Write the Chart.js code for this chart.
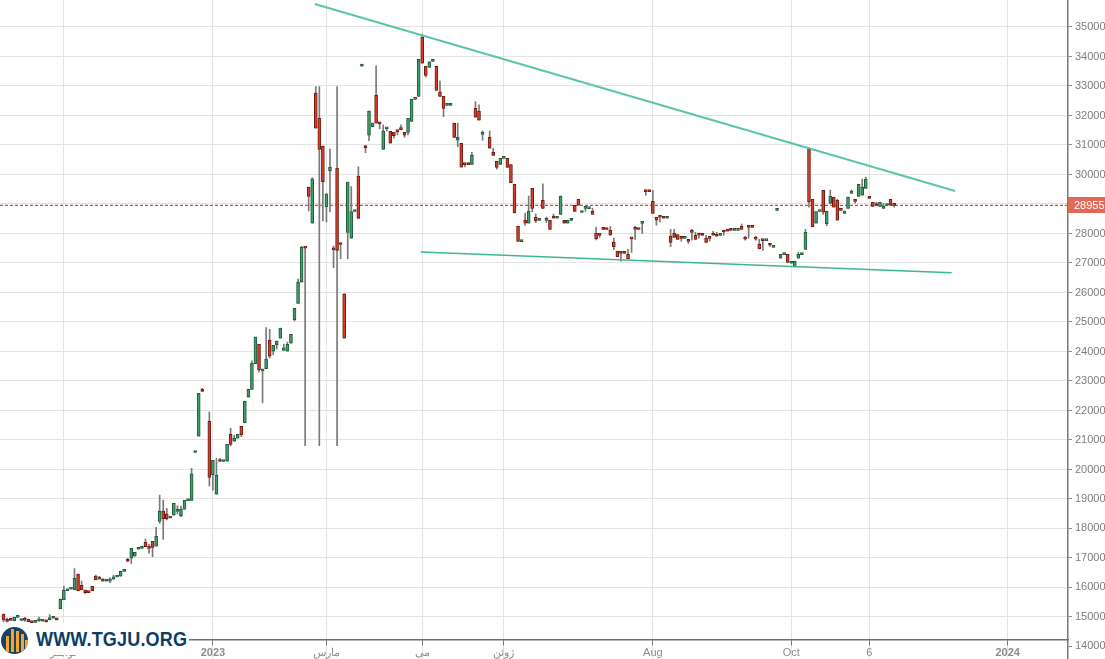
<!DOCTYPE html>
<html>
<head>
<meta charset="utf-8">
<script src="https://cdn.jsdelivr.net/npm/chart.js@4.4.0/dist/chart.umd.min.js"></script>
<style>
  html, body { margin: 0; padding: 0; background: #fff; }
  #wrap { position: relative; width: 1105px; height: 659px; overflow: hidden; }
  #logo { position: absolute; left: 0; top: 623px; width: 189px; height: 32px; background: #fff; }
  #logo .icon { position: absolute; left: 1px; top: 4px; width: 27px; height: 27px; border-radius: 50%; background: #15426b; overflow: hidden; }
  #logo .icon span { position: absolute; bottom: 2px; width: 3px; background: #f6a623; }
  #logo .site { position: absolute; left: 36px; top: 6px; font: bold 20px "Liberation Sans", Arial, sans-serif; color: #0c3d66;
                transform: scaleX(0.9); transform-origin: left top; letter-spacing: 0.2px; line-height: 20px; }
</style>
</head>
<body>
<div id="wrap">
  <canvas id="chart" width="1105" height="659"></canvas>
  <div id="logo">
    <div class="icon">
      <span style="left:5px;height:16px"></span>
      <span style="left:10px;height:23px"></span>
      <span style="left:15px;height:21px"></span>
      <span style="left:20px;height:18px"></span>
      <span style="left:24px;height:12px"></span>
    </div>
    <div class="site">WWW.TGJU.ORG</div>
  </div>
</div>
<script>
// trading sessions, one candle each (session 58 and 137 had no trade)
const opens = [
  15100, 14910, 14895, 14870, 14985, 14880, 14960, 14920, 14860, 14815,
  14870, 14855, 14900, 14910, 14955, 14960, 15280, 15590, 15890, 15945,
  15920, 16450, 16070, 15910, 15835, 16040, 16390, 16280, 16290, 16215,
  16210, 16280, 16355, 16380, 16545, 16930, 16990, 17060, 17295, 17325,
  17530, 17335, 17560, 17400, 18240, 18590, 18500, 18355, 18450, 18580,
  18430, 18650, 18945, 18950, 20575, 21130, 22655, null, 21630, 19820,
  19160, 20280, 20270, 20280, 21190, 20960, 21060, 21460, 21590, 22450,
  22710, 23590, 24240, 23345, 23420, 24380, 24010, 24230, 24450, 24040,
  24010, 24280, 25080, 25630, 26350, 27515, 29570, 28350, 32760, 31900,
  30960, 28900, 30130, 27455, 30220, 27635, 25950, 28040, 27840, 28745,
  29950, 33675, 30970, 31330, 31620, 32680, 31725, 30850, 31550, 31460,
  31430, 31465, 31580, 31430, 31430, 31800, 32545, 32650, 34660, 33670,
  33630, 33835, 33670, 32800, 32650, 32345, 32345, 31740, 31160, 31060,
  30345, 30345, 30340, 32240, 32140, 31360, null, 31260, 30750, 30450,
  30340, 30545, 30550, 30340, 29670, 28240, 27725, 28450, 28350, 29530,
  28550, 28445, 29120, 28445, 28450, 28550, 28515, 28650, 28450, 28350,
  28445, 28955, 29160, 28710, 28850, 28845, 28750, 28010, 27945, 28210,
  28145, 28110, 27700, 27400, 27335, 27335, 27290, 27825, 28180, 28145,
  28340, 29430, 29430, 29090, 28550, 28590, 28525, 28515, 27910, 28010,
  27960, 27845, 27835, 27800, 28080, 27940, 28010, 27945, 27840, 27845,
  28010, 27970, 27935, 28110, 28140, 28115, 28105, 28105, 28240, 27850,
  28215, 28215, 27850, 27630, 27770, 27760, 27670, 27530, 28785, 27160,
  27285, 27290, 26990, 26870, 27160, 27285, 27460, 30850, 29160, 28350,
  28745, 29460, 28330, 29020, 29230, 29120, 28795, 28680, 28850, 29360,
  29160, 29260, 29300, 29530, 29230, 29060, 28960, 28920, 28850, 28950,
  29160, 28990
];
const highs = [
  15100, 14960, 14895, 14990, 14995, 14920, 14990, 14920, 14860, 14825,
  15000, 14865, 14900, 15080, 14965, 14960, 15610, 16050, 15950, 15955,
  16640, 16450, 16220, 15910, 15835, 16040, 16420, 16380, 16290, 16225,
  16330, 16420, 16365, 16550, 16555, 16990, 17330, 17190, 17305, 17335,
  17640, 17460, 17560, 18040, 19130, 18960, 18680, 18365, 18850, 18770,
  18760, 18950, 18955, 20040, 20585, 22580, 22750, null, 21950, 20310,
  20380, 20380, 20280, 20850, 21400, 21160, 21190, 21460, 22310, 22720,
  23680, 24490, 24240, 23355, 24810, 24750, 24210, 24350, 24790, 24250,
  24320, 24580, 25460, 26450, 27570, 27515, 29570, 29890, 32980, 32980,
  30960, 29340, 30860, 27575, 32980, 27635, 25950, 29740, 29590, 28755,
  30260, 33685, 30970, 32150, 31740, 33680, 31725, 31680, 31560, 31460,
  31430, 31465, 31680, 31430, 31900, 32550, 32555, 33900, 34760, 33670,
  33820, 33845, 33670, 33170, 32650, 32355, 32355, 31740, 31740, 31060,
  30345, 30345, 30750, 32470, 32360, 31480, null, 31470, 30890, 30450,
  30550, 30555, 30550, 30340, 29670, 28240, 27735, 28690, 29270, 29530,
  28660, 28455, 29680, 28560, 28450, 28660, 28525, 29270, 28450, 28450,
  28455, 28955, 29160, 28750, 28860, 28855, 28860, 28210, 27945, 28210,
  28145, 28240, 27840, 27400, 27335, 27335, 27460, 27825, 28240, 28145,
  28350, 29460, 29430, 29460, 28550, 28590, 28525, 28525, 28140, 28140,
  27960, 27845, 27845, 27800, 28140, 28040, 28010, 27945, 27940, 27845,
  28075, 28040, 27945, 28110, 28140, 28115, 28115, 28115, 28320, 27905,
  28215, 28215, 27905, 27800, 27770, 27770, 27670, 27540, 28795, 27290,
  27295, 27290, 27000, 27060, 27360, 27295, 28140, 30910, 29160, 28740,
  28755, 29460, 28760, 29475, 29230, 29160, 28795, 28760, 29230, 29475,
  29160, 29670, 29840, 29910, 29260, 29060, 29060, 29060, 29020, 28960,
  29160, 28990
];
const lows = [
  14830, 14830, 14885, 14870, 14985, 14880, 14850, 14840, 14740, 14815,
  14850, 14855, 14830, 14900, 14955, 14900, 15280, 15590, 15890, 15945,
  15920, 15890, 15920, 15790, 15825, 15890, 16260, 16280, 16210, 16215,
  16160, 16280, 16355, 16380, 16545, 16870, 16810, 17060, 17295, 17325,
  17380, 17160, 17040, 17400, 18180, 17630, 18290, 18355, 18450, 18490,
  18400, 18650, 18945, 18950, 20575, 21130, 22645, null, 19440, 19300,
  19160, 20270, 20270, 20280, 20800, 20960, 21060, 21110, 21590, 22450,
  22710, 23590, 23310, 22260, 23420, 23770, 23890, 24080, 24450, 24040,
  24010, 24280, 25040, 25630, 26350, 20810, 28770, 28350, 31570, 20810,
  28430, 28390, 28730, 26840, 20810, 27145, 24450, 27145, 27840, 28745,
  28510, 33675, 30740, 31150, 31620, 31740, 31550, 30850, 31470, 31060,
  31230, 31350, 31520, 31260, 31340, 31800, 32545, 32650, 33770, 33300,
  33630, 33835, 32850, 32650, 31960, 32345, 32345, 31260, 30940, 30250,
  30260, 30335, 30340, 31940, 31840, 31160, null, 30890, 30650, 30180,
  30340, 30545, 30240, 29720, 28700, 27730, 27725, 28280, 28350, 28740,
  28370, 28445, 28850, 28370, 28140, 28520, 28515, 28650, 28350, 28350,
  28445, 28750, 28960, 28710, 28750, 28845, 28650, 27780, 27870, 28140,
  28135, 27940, 27450, 27210, 27060, 27325, 27150, 27360, 27800, 28135,
  28000, 29295, 29420, 28680, 28280, 28390, 28515, 28515, 27550, 27870,
  27800, 27735, 27835, 27665, 27780, 27800, 27840, 27935, 27700, 27745,
  27940, 27905, 27935, 27940, 28080, 28105, 28105, 28105, 28140, 27770,
  27840, 28205, 27770, 27480, 27430, 27760, 27565, 27530, 28785, 27160,
  27285, 27020, 26990, 26870, 27160, 27285, 27460, 28890, 28230, 28350,
  28745, 28650, 28265, 29020, 28890, 28450, 28785, 28680, 28850, 29360,
  29025, 29260, 29300, 29530, 29190, 28920, 28950, 28920, 28850, 28950,
  28960, 28890
];
const closes = [
  14900, 14850, 14885, 14990, 14995, 14920, 14890, 14840, 14810, 14825,
  14930, 14865, 14830, 14960, 14965, 14900, 15610, 15910, 15950, 15955,
  16310, 15890, 15920, 15820, 15825, 15890, 16260, 16330, 16210, 16225,
  16290, 16360, 16365, 16550, 16555, 16890, 17330, 17190, 17305, 17335,
  17380, 17325, 17360, 17730, 18590, 18320, 18330, 18365, 18850, 18660,
  18650, 18950, 18955, 19850, 20585, 22580, 22645, null, 19730, 20310,
  19800, 20270, 20280, 20850, 20850, 21060, 21190, 21180, 22310, 22720,
  23610, 24490, 23380, 23355, 23740, 23840, 24210, 24350, 24790, 24120,
  24240, 24580, 25460, 26350, 27530, 27505, 29260, 29850, 31570, 30850,
  29760, 29340, 30240, 27445, 27430, 27625, 24450, 29740, 28740, 28755,
  28510, 33685, 30910, 32150, 31740, 31740, 31715, 31470, 31560, 31060,
  31320, 31455, 31520, 31330, 31900, 32550, 32555, 33900, 33770, 33360,
  33820, 33845, 32850, 32650, 32240, 32355, 32355, 31260, 31260, 30250,
  30335, 30335, 30650, 31940, 31840, 31370, null, 30890, 30650, 30240,
  30550, 30555, 30240, 29720, 28700, 27730, 27735, 28350, 28750, 28850,
  28430, 28455, 28850, 28455, 28140, 28520, 28525, 29270, 28350, 28450,
  28455, 28750, 28960, 28750, 28860, 28855, 28650, 27820, 27935, 28140,
  28135, 27940, 27550, 27210, 27325, 27325, 27150, 27815, 28140, 28135,
  28350, 29420, 29420, 28680, 28450, 28550, 28515, 28525, 27700, 27870,
  27800, 27835, 27845, 27730, 28040, 27800, 27940, 27935, 27700, 27835,
  27940, 27905, 27945, 28050, 28080, 28105, 28115, 28115, 28140, 27810,
  28205, 28205, 27810, 27480, 27760, 27770, 27600, 27540, 28795, 27290,
  27295, 27020, 27000, 27060, 27290, 27295, 28040, 29060, 28230, 28740,
  28755, 28720, 28760, 29260, 28890, 28450, 28785, 28760, 29230, 29430,
  29090, 29670, 29570, 29840, 29190, 28920, 28950, 29060, 28920, 28960,
  28960, 28955
];

// x-axis ticks (session number -> label)
const tickSessions = [18, 60, 92, 119, 142, 184, 223, 245, 284];
const tickLabels = ['نوامبر', '2023', 'مارس', 'می', 'ژوئن', 'Aug', 'Oct', '6', '2024'];
// y-axis ticks
const priceTicks = [14000, 15000, 16000, 17000, 18000, 19000, 20000, 21000, 22000, 23000, 24000,
                    25000, 26000, 27000, 28000, 29000, 30000, 31000, 32000, 33000, 34000, 35000];

// trend lines: [session, price]
const upperTrend = [[88.7, 35780], [269.2, 29440]];
const lowerTrend = [[118.6, 27372], [268.2, 26670]];

const lastSession = 301;
const lastClose = closes[closes.length - 1];

const UP_FILL = '#429d6d', UP_EDGE = '#1d5a38';
const DOWN_FILL = '#d0402c', DOWN_EDGE = '#701b11';

const bodies = [], wicks = [], fills = [], edges = [];
opens.forEach((o, k) => {
  if (o === null) return;
  const s = k + 1;
  const up = closes[k] >= o;
  bodies.push({ x: s, y: [o, closes[k]] });
  wicks.push({ x: s, y: [lows[k], highs[k]] });
  fills.push(up ? UP_FILL : DOWN_FILL);
  edges.push(up ? UP_EDGE : DOWN_EDGE);
});

const FONT = '"Liberation Sans", Arial, sans-serif';

const priceTag = {
  id: 'priceTag',
  afterDraw(chart) {
    const { ctx } = chart;
    const y = Math.round(chart.scales.y.getPixelForValue(lastClose));
    const x0 = chart.chartArea.right;
    ctx.save();
    ctx.fillStyle = '#e2685a';
    ctx.fillRect(x0, y - 8, chart.width - x0, 16);
    ctx.fillStyle = '#fff';
    ctx.font = '11px ' + FONT;
    ctx.textBaseline = 'middle';
    ctx.fillText(String(lastClose), x0 + 6, y + 1);
    ctx.restore();
  }
};

new Chart(document.getElementById('chart'), {
  data: {
    datasets: [
      {
        type: 'line',
        data: upperTrend.map(p => ({ x: p[0], y: p[1] })),
        borderColor: '#5cc4ad',
        borderWidth: 2,
        pointRadius: 0,
        order: 0
      },
      {
        type: 'line',
        data: lowerTrend.map(p => ({ x: p[0], y: p[1] })),
        borderColor: '#3db597',
        borderWidth: 1.6,
        pointRadius: 0,
        order: 0
      },
      {
        type: 'line',
        data: [{ x: 0, y: lastClose }, { x: lastSession, y: lastClose }],
        borderColor: '#f0402a',
        borderWidth: 1.2,
        borderDash: [3, 2],
        pointRadius: 0,
        order: 3
      },
      {
        type: 'bar',
        data: bodies,
        backgroundColor: fills,
        borderColor: edges,
        borderWidth: 1,
        borderSkipped: false,
        barThickness: 3,
        minBarLength: 2,
        grouped: false,
        order: 1
      },
      {
        type: 'bar',
        data: wicks,
        backgroundColor: '#7a7a7a',
        borderWidth: 0,
        barThickness: 1,
        grouped: false,
        order: 2
      }
    ]
  },
  options: {
    responsive: false,
    animation: false,
    layout: { padding: 0 },
    plugins: { legend: { display: false }, tooltip: { enabled: false } },
    scales: {
      x: {
        type: 'linear',
        min: 0,
        max: lastSession,
        offset: false,
        position: { y: 14219 },
        afterBuildTicks: (scale) => { scale.ticks = tickSessions.map(v => ({ value: v })); },
        ticks: {
          autoSkip: false,
          maxRotation: 0,
          padding: 1,
          color: '#8c8c8c',
          font: (ctx) => ({
            family: FONT,
            size: 11,
            weight: /^\d{4}$/.test(tickLabels[tickSessions.indexOf(ctx.tick && ctx.tick.value)] || '') ? 'bold' : 'normal'
          }),
          callback: (v) => tickLabels[tickSessions.indexOf(v)]
        },
        grid: { offset: false, color: '#e4e4e4', lineWidth: 1, tickLength: 5, tickColor: '#777' },
        border: { color: '#6e6e6e', width: 1.5 }
      },
      y: {
        position: 'right',
        min: 13575,
        max: 35915,
        afterFit: (scale) => {
          scale.width = 37;
          scale.paddingTop = 0;
          scale.paddingBottom = 0;
        },
        afterBuildTicks: (scale) => { scale.ticks = priceTicks.map(v => ({ value: v })); },
        ticks: {
          padding: 3,
          color: '#7d7d7d',
          font: { family: FONT, size: 11 },
          callback: (v) => String(v)
        },
        grid: {
          color: (ctx) => (ctx.tick && ctx.tick.value === 14000 ? 'rgba(0,0,0,0)' : '#e4e4e4'),
          lineWidth: 1,
          tickLength: 4,
          tickColor: '#888'
        },
        border: { color: '#777', width: 1.5 }
      }
    }
  },
  plugins: [priceTag]
});
</script>
</body>
</html>
